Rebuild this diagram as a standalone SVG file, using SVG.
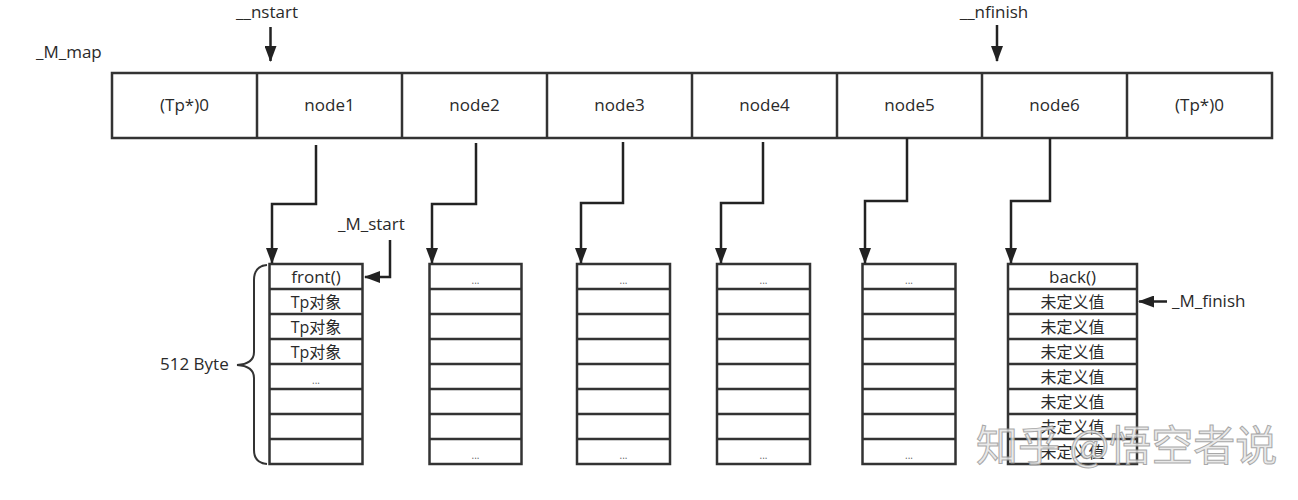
<svg xmlns="http://www.w3.org/2000/svg" width="1298" height="500" viewBox="0 0 1298 500">
<defs>
<marker id="ah" viewBox="0 0 16 12" markerWidth="16" markerHeight="12" refX="15" refY="6" orient="auto" markerUnits="userSpaceOnUse">
<path d="M0,0 L16,6 L0,12 z" fill="#222"/>
</marker>
<style>
text{font-family:"Open Sans","Noto Sans CJK SC",sans-serif;font-size:17px;fill:#2a2a2a}
.c{text-anchor:middle}
.box{fill:#fff;stroke:#333;stroke-width:2.5}
.row{stroke:#333;stroke-width:2.5}
.dots{font-size:10px;fill:#666;text-anchor:middle}
.cjk{font-size:16px}
.con{fill:none;stroke:#222;stroke-width:2.5;marker-end:url(#ah)}
.wm{font-family:"Noto Sans CJK SC",sans-serif;font-size:42px;fill:#e6e6e6;stroke:#9a9a9a;stroke-width:1;opacity:0.85}
</style>
</defs>
<rect width="1298" height="500" fill="#fff"/>

<text x="36" y="58">_M_map</text>
<text class="c" x="267" y="18">__nstart</text>
<text class="c" x="994" y="18">__nfinish</text>

<g id="map">
<rect class="box" x="112" y="73" width="1160" height="65"/>
<line class="row" x1="257" y1="73" x2="257" y2="138"/>
<line class="row" x1="402" y1="73" x2="402" y2="138"/>
<line class="row" x1="547" y1="73" x2="547" y2="138"/>
<line class="row" x1="692" y1="73" x2="692" y2="138"/>
<line class="row" x1="837" y1="73" x2="837" y2="138"/>
<line class="row" x1="982" y1="73" x2="982" y2="138"/>
<line class="row" x1="1127" y1="73" x2="1127" y2="138"/>
<text class="c" x="184.5" y="111">(Tp*)0</text>
<text class="c" x="329.5" y="111">node1</text>
<text class="c" x="474.5" y="111">node2</text>
<text class="c" x="619.5" y="111">node3</text>
<text class="c" x="764.5" y="111">node4</text>
<text class="c" x="909.5" y="111">node5</text>
<text class="c" x="1054.5" y="111">node6</text>
<text class="c" x="1199.5" y="111">(Tp*)0</text>
</g>

<g id="buf1">
<rect class="box" x="269.5" y="264" width="93" height="200"/>
<path class="row" d="M269.5 289H362.5M269.5 314H362.5M269.5 339H362.5M269.5 364H362.5M269.5 389H362.5M269.5 414H362.5M269.5 439H362.5"/>
<text class="c" x="316" y="283">front()</text>
<text class="c cjk" x="316" y="308">Tp对象</text>
<text class="c cjk" x="316" y="333">Tp对象</text>
<text class="c cjk" x="316" y="358">Tp对象</text>
<text class="dots" x="316" y="384">...</text>
</g>

<g id="buf2">
<rect class="box" x="429.5" y="264" width="92" height="200"/>
<path class="row" d="M429.5 289H521.5M429.5 314H521.5M429.5 339H521.5M429.5 364H521.5M429.5 389H521.5M429.5 414H521.5M429.5 439H521.5"/>
<text class="dots" x="475.5" y="284">...</text>
<text class="dots" x="475.5" y="459">...</text>
</g>

<g id="buf3">
<rect class="box" x="577" y="264" width="93" height="200"/>
<path class="row" d="M577 289H670M577 314H670M577 339H670M577 364H670M577 389H670M577 414H670M577 439H670"/>
<text class="dots" x="623.5" y="284">...</text>
<text class="dots" x="623.5" y="459">...</text>
</g>

<g id="buf4">
<rect class="box" x="717" y="264" width="93" height="200"/>
<path class="row" d="M717 289H810M717 314H810M717 339H810M717 364H810M717 389H810M717 414H810M717 439H810"/>
<text class="dots" x="763.5" y="284">...</text>
<text class="dots" x="763.5" y="459">...</text>
</g>

<g id="buf5">
<rect class="box" x="862.5" y="264" width="93" height="200"/>
<path class="row" d="M862.5 289H955.5M862.5 314H955.5M862.5 339H955.5M862.5 364H955.5M862.5 389H955.5M862.5 414H955.5M862.5 439H955.5"/>
<text class="dots" x="909" y="284">...</text>
<text class="dots" x="909" y="459">...</text>
</g>

<g id="buf6">
<rect class="box" x="1008" y="264" width="129" height="200"/>
<path class="row" d="M1008 289H1137M1008 314H1137M1008 339H1137M1008 364H1137M1008 389H1137M1008 414H1137M1008 439H1137"/>
<text class="c" x="1072.5" y="283">back()</text>
<text class="c cjk" x="1072.5" y="308">未定义值</text>
<text class="c cjk" x="1072.5" y="333">未定义值</text>
<text class="c cjk" x="1072.5" y="358">未定义值</text>
<text class="c cjk" x="1072.5" y="383">未定义值</text>
<text class="c cjk" x="1072.5" y="408">未定义值</text>
<text class="c cjk" x="1072.5" y="433">未定义值</text>
<text class="c cjk" x="1072.5" y="458">未定义值</text>
</g>

<g id="brace">
<path d="M267 265 Q254 266 254 280 L254 352 Q254 364 237 365 Q254 366 254 378 L254 450 Q254 463 267 464" fill="none" stroke="#333" stroke-width="2"/>
<text x="160" y="370">512 Byte</text>
</g>

<text x="338" y="230">_M_start</text>
<text x="1172" y="307">_M_finish</text>

<g id="connectors">
<path class="con" d="M270.5 27V61"/>
<path class="con" d="M997 25V61"/>
<path class="con" d="M316 145V204H272V263"/>
<path class="con" d="M476 143V204H432V263"/>
<path class="con" d="M623 142V203H581V263"/>
<path class="con" d="M763 142V203H721V263"/>
<path class="con" d="M907 138V201H865V263"/>
<path class="con" d="M1050 138V201H1011V263"/>
<path class="con" d="M390 240V277H365"/>
<path class="con" d="M1167 301.5H1139"/>
</g>

<text class="wm" x="976" y="461">知乎 @悟空者说</text>
</svg>
